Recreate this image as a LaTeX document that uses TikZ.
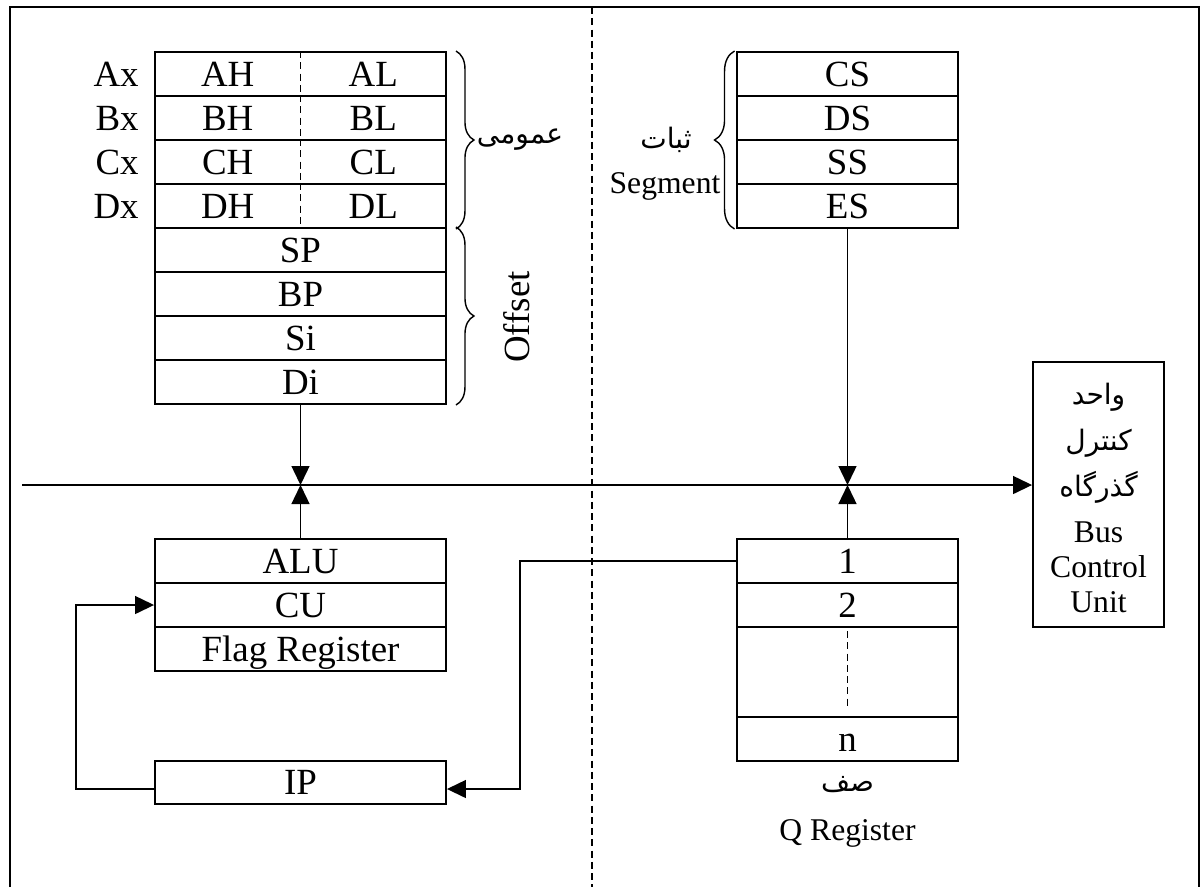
\documentclass[tikz,border=0pt]{standalone}
\usepackage{fontspec}
\setmainfont{Liberation Serif}
\newfontfamily\arfont[Script=Arabic]{DejaVu Sans}
\TeXXeTstate=1
\usetikzlibrary{arrows.meta,decorations.pathreplacing}
\newcommand{\fa}[1]{{\arfont\beginR #1\endR}}

\begin{document}
\begin{tikzpicture}[
	reg/.style={draw, line width=1.1pt, minimum width=5.82cm, minimum height=0.88cm, inner sep=0pt,
		font=\fontsize{21}{24}\selectfont, text height=14pt, text depth=0pt},
	seg/.style={reg, minimum width=4.42cm},
	lbl/.style={inner sep=0pt, font=\fontsize{21}{24}\selectfont, text height=14pt, text depth=0pt},
	smalltxt/.style={inner sep=0pt, font=\fontsize{18}{21}\selectfont, text height=12pt, text depth=0pt},
	fatxt/.style={inner sep=0pt, font=\fontsize{16}{20}\selectfont},
	arr/.style={-{Triangle[length=0.38cm, width=0.36cm]}, line width=0.8pt},
	split/.style={dashed, line width=1pt, dash pattern=on 4pt off 2.4pt},
	brace/.style={decorate, decoration={brace, amplitude=0.36cm}, line width=0.8pt},
	]
	\useasboundingbox (0,0) rectangle (24.02,-17.74);

	% frame and middle line
	\draw[line width=1.4pt] (0.2,-17.74) |- (23.98,-0.14) -- (23.98,-17.74);
	\draw[split] (11.84,-0.14) -- (11.84,-17.74);

	% general and offset registers
	\foreach \r/\t [count=\i] in {a/,b/,c/,d/,sp/SP,bp/BP,si/Si,di/Di}
	{
		\node[reg] (\r) at (6.01,-0.60-0.88*\i) {\t};
	};
	\foreach \r/\h/\l/\x in {a/AH/AL/Ax, b/BH/BL/Bx, c/CH/CL/Cx, d/DH/DL/Dx}
	{
		\node[lbl] (\r h) at ([xshift=-1.455cm]\r.center) {\h};
		\node[lbl] (\r l) at ([xshift=1.455cm]\r.center) {\l};
		\node[lbl, anchor=east] (\r x) at ([xshift=-0.3cm]\r.west) {\x};
		\draw[split] (\r.north) -- (\r.south);
	};
	\draw[brace] ([xshift=0.18cm]a.north east) -- ([xshift=0.18cm]d.south east);
	\draw[brace] ([xshift=0.18cm]sp.north east) -- ([xshift=0.18cm]di.south east);
	\node[fatxt] (gen) at (10.40,-2.80) {\fa{عمومی}};
	\node[lbl, rotate=90] (off) at (10.34,-6.34) {Offset};

	% segment registers
	\foreach \r/\t [count=\i] in {cs/CS,ds/DS,ss/SS,es/ES}
	{
		\node[seg] (\r) at (16.95,-0.60-0.88*\i) {\t};
	};
	\draw[brace, decoration={amplitude=0.4cm}] ([xshift=-0.03cm]es.south west) -- ([xshift=-0.03cm]cs.north west);
	\node[fatxt] (segfa) at (13.32,-2.80) {\fa{ثبات}};
	\node[smalltxt] (segen) at (13.30,-3.66) {Segment};

	% ALU, CU, flags and IP
	\foreach \r/\t [count=\i] in {alu/ALU, cu/CU, flag/Flag Register}
	{
		\node[reg] (\r) at (6.01,-10.34-0.88*\i) {\t};
	};
	\node[reg, minimum height=0.86cm] (ip) at (6.01,-15.65) {IP};

	% queue
	\node[seg] (q1) at (16.95,-11.22) {1};
	\node[seg] (q2) at (16.95,-12.10) {2};
	\node[seg, minimum height=1.80cm] (qd) at (16.95,-13.44) {};
	\node[seg] (qn) at (16.95,-14.78) {n};
	\draw[split] ([yshift=-0.1cm]qd.north) -- ([yshift=0.2cm]qd.south);
	\node[fatxt] (qfa) at (16.95,-15.70) {\fa{صف}};
	\node[smalltxt] (qen) at (16.95,-16.60) {Q Register};

	% bus control unit
	\node[draw, line width=1.1pt, minimum width=2.62cm, minimum height=5.30cm] (bcu) at (21.97,-9.89) {};
	\foreach \t/\y [count=\i] in {واحد/-7.94, کنترل/-8.86, گذرگاه/-9.74}
	{
		\node[fatxt] (bfa\i) at (21.97,\y) {\fa{\t}};
	};
	\foreach \t/\y [count=\i] in {Bus/-10.64, Control/-11.34, Unit/-12.04}
	{
		\node[smalltxt] (ben\i) at (21.97,\y) {\t};
	};

	% bus and connections
	\coordinate (busL) at (0.44,-9.70);
	\coordinate (j1) at (di.south |- busL);
	\coordinate (j2) at (es.south |- busL);
	\draw[arr] (busL) -- (busL -| bcu.west);
	\draw[arr] (di.south) -- (j1);
	\draw[arr] (alu.north) -- (j1);
	\draw[arr] (es.south) -- (j2);
	\draw[arr] (q1.north) -- (j2);
	\draw[arr] (q1.west) -- ++(-4.32,0) |- ([yshift=-0.13cm]ip.east);
	\draw[arr] ([yshift=-0.13cm]ip.west) -- ++(-1.56,0) |- (cu.west);
\end{tikzpicture}
\end{document}
